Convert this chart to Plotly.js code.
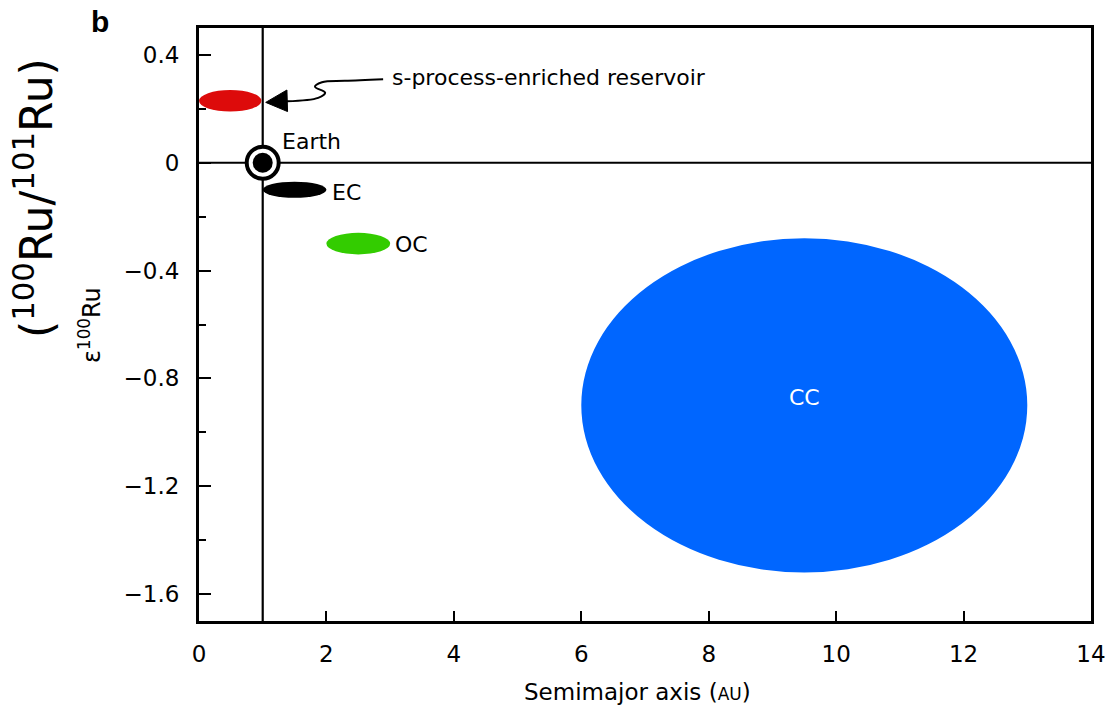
<!DOCTYPE html>
<html>
<head>
<meta charset="utf-8">
<script src="https://cdn.plot.ly/plotly-3.0.1.min.js"></script>
<style>html,body{margin:0;padding:0;background:#fff;}#chart{width:1110px;height:709px;}</style>
</head>
<body>
<div id="chart"></div>
<script>
// Reservoirs (ellipses): name, centre semimajor axis (AU), centre ε100Ru, half-width (AU), half-height
const reservoirNames = ["s-process", "EC", "OC", "CC"];
const centerAU = [0.49, 1.5, 2.5, 9.5];
const centerEps = [0.23, -0.1, -0.3, -0.9];
const halfWidthAU = [0.49, 0.5, 0.5, 3.5];
const halfHeightEps = [0.04, 0.03, 0.04, 0.62];
const reservoirColors = ["#dd0b0b", "#000000", "#33cc00", "#0066ff"];

// Earth
const earthAU = [1];
const earthEps = [0];

// Labels
const labelText = ["Earth", "EC", "OC"];
const labelX = [1.27, 2.05, 3.04];
const labelY = [0.08, -0.11, -0.305];

// Arrow pointing to the s-process-enriched reservoir
const arrowLineX = [1.38, 1.87, 1.98, 1.82, 1.93, 2.29, 2.89];
const arrowLineY = [0.228, 0.241, 0.26, 0.282, 0.299, 0.304, 0.31];
const arrowHeadX = [1.047, 1.38, 1.39, 1.047];
const arrowHeadY = [0.224, 0.27, 0.19, 0.224];

// Axes
const xTicks = [0, 2, 4, 6, 8, 10, 12, 14];
const xRange = [0, 14];
const yRange = [-1.7, 0.5];

const FONT = "DejaVu Sans, Liberation Sans, Arial, sans-serif";

const traces = [
  {x: arrowLineX, y: arrowLineY, mode: "lines", line: {color: "#000", width: 2, shape: "spline", smoothing: 1}, hoverinfo: "skip"},
  {x: arrowHeadX, y: arrowHeadY, mode: "lines", fill: "toself", fillcolor: "#000", line: {color: "#000", width: 1}, hoverinfo: "skip"},
  {x: earthAU, y: earthEps, mode: "markers", marker: {symbol: "circle", size: 32, color: "#fff", line: {color: "#000", width: 4}}, hoverinfo: "skip"},
  {x: earthAU, y: earthEps, mode: "markers", marker: {symbol: "circle", size: 20, color: "#000"}, hoverinfo: "skip"}
];

const shapes = [];
for (let i = 0; i < reservoirNames.length; i++) {
  shapes.push({
    type: "circle", xref: "x", yref: "y", layer: "below",
    x0: centerAU[i] - halfWidthAU[i], x1: centerAU[i] + halfWidthAU[i],
    y0: centerEps[i] - halfHeightEps[i], y1: centerEps[i] + halfHeightEps[i],
    fillcolor: reservoirColors[i], line: {width: 0}
  });
}
shapes.unshift(
  {type: "line", xref: "x", yref: "paper", x0: earthAU[0], x1: earthAU[0], y0: 0, y1: 1, layer: "below", line: {color: "#000", width: 2.2}},
  {type: "line", xref: "paper", yref: "y", x0: 0, x1: 1, y0: earthEps[0], y1: earthEps[0], layer: "below", line: {color: "#000", width: 2.2}}
);

function px2paper(px, py) { return {x: (px - 199) / 892, y: (621 - py) / 593}; }

const annotations = labelText.map((t, i) => ({
  x: labelX[i], y: labelY[i], xref: "x", yref: "y", text: t, showarrow: false,
  xanchor: "left", yanchor: "middle", font: {family: FONT, size: 22, color: "#000"}
}));
annotations.push(
  {x: centerAU[3], y: -0.87, xref: "x", yref: "y", text: "CC", showarrow: false, xanchor: "center", yanchor: "middle", font: {family: FONT, size: 22, color: "#fff"}},
  {x: 2.99, y: 0.318, xref: "x", yref: "y", text: "s-process-enriched reservoir", showarrow: false, xanchor: "left", yanchor: "middle", font: {family: FONT, size: 22, color: "#000"}}
);
const pixelTexts = [
  {px: 100, py: 22, text: "<b>b</b>", size: 30, angle: 0, fam: "Liberation Sans, Arial, sans-serif"},
  {px: 34, py: 198, text: "(<sup>100</sup>Ru/<sup>101</sup>Ru)", size: 44, angle: -90, fam: FONT},
  {px: 90, py: 325, text: "ε<sup>100</sup>Ru", size: 24, angle: -90, fam: FONT},
  {px: 637, py: 692, text: "Semimajor axis (<span style='font-size:17px'>AU</span>)", size: 23, angle: 0, fam: FONT}
];
pixelTexts.forEach(p => {
  const c = px2paper(p.px, p.py);
  annotations.push({x: c.x, y: c.y, xref: "paper", yref: "paper", xanchor: "center", yanchor: "middle",
    text: p.text, showarrow: false, textangle: p.angle, font: {family: p.fam, size: p.size, color: "#000"}});
});

const layout = {
  width: 1110, height: 709,
  margin: {l: 199, r: 19, t: 28, b: 88},
  paper_bgcolor: "#fff", plot_bgcolor: "#fff",
  showlegend: false,
  font: {family: FONT, size: 23, color: "#000"},
  xaxis: {
    range: xRange, tickvals: xTicks, ticks: "inside", ticklen: 10, tickwidth: 2, tickcolor: "#000",
    showline: true, linewidth: 3, linecolor: "#000", mirror: true, showgrid: false, zeroline: false,
    ticklabelstandoff: 10, tickfont: {family: FONT, size: 23, color: "#000"}
  },
  yaxis: {
    range: yRange, tick0: 0, dtick: 0.4, ticks: "inside", ticklen: 12, tickwidth: 2, tickcolor: "#000",
    minor: {dtick: 0.2, ticklen: 7, tickwidth: 2, tickcolor: "#000", ticks: "inside"},
    showline: true, linewidth: 3, linecolor: "#000", mirror: true, showgrid: false, zeroline: false,
    ticklabelstandoff: 12, tickfont: {family: FONT, size: 23, color: "#000"}
  },
  shapes: shapes,
  annotations: annotations
};

Plotly.newPlot("chart", traces, layout, {staticPlot: true, displayModeBar: false});
</script>
</body>
</html>
